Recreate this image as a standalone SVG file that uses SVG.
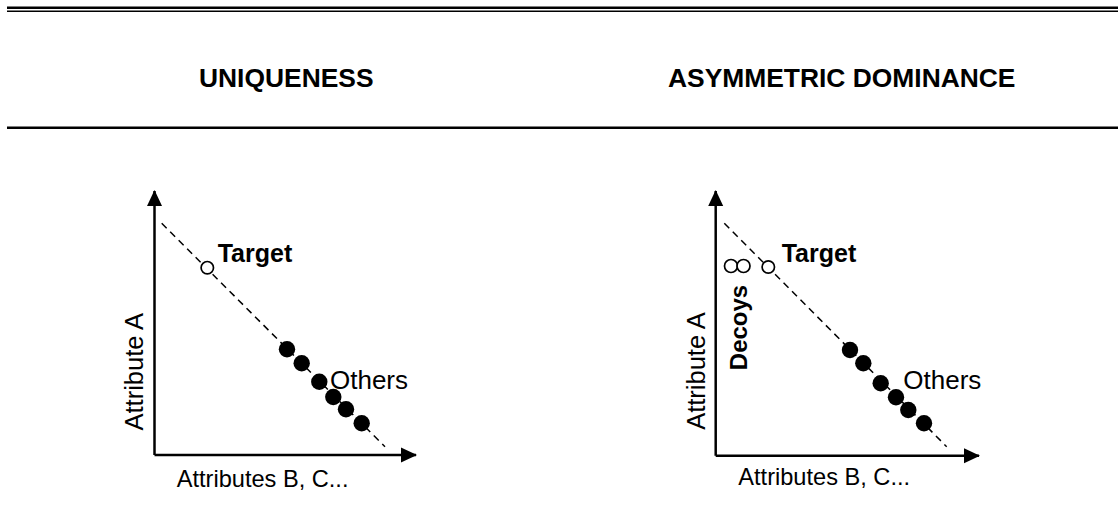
<svg xmlns="http://www.w3.org/2000/svg" width="1118" height="515" viewBox="0 0 1118 515">
<style>
text{font-family:"Liberation Sans",Arial,sans-serif;fill:#000}
.title{font-size:26.4px;font-weight:bold}
.others{font-size:26px}
.attr{font-size:25.5px}
.attrs{font-size:23.6px}
.target{font-size:25px;font-weight:bold}
.decoy{font-size:24px;font-weight:bold}
.axis{stroke:#000;stroke-width:2.5;fill:none}
.dash{stroke:#000;stroke-width:1.5;stroke-dasharray:7,5;fill:none}
.open{fill:#fff;stroke:#000;stroke-width:1.7}
.dot{fill:#000}
.rule{stroke:#000;fill:none}
</style>
<defs>
<marker id="ah" markerWidth="16" markerHeight="16" viewBox="0 0 16 16" refX="15" refY="8" orient="auto" markerUnits="userSpaceOnUse">
<path d="M0,0.5 L16,8 L0,15.5 Z" fill="#000"/>
</marker>
</defs>
<g id="rules">
<line class="rule" x1="7" y1="7.7" x2="1118" y2="7.7" stroke-width="2.4"/>
<line class="rule" x1="7" y1="11.2" x2="1118" y2="11.2" stroke-width="1.6"/>
<line class="rule" x1="7" y1="127.8" x2="1118" y2="127.8" stroke-width="2.5"/>
</g>
<g id="title-uniqueness"><text class="title" x="199" y="86.5">UNIQUENESS</text></g>
<g id="title-asymmetric"><text class="title" x="668" y="86.5">ASYMMETRIC DOMINANCE</text></g>

<g id="chart-left">
<g id="connectors-left">
<line class="axis" x1="154.5" y1="455" x2="154.5" y2="191" marker-end="url(#ah)"/>
<line class="axis" x1="154.5" y1="455" x2="416" y2="455" marker-end="url(#ah)"/>
<line class="dash" x1="161.7" y1="223.3" x2="385" y2="446.7"/>
</g>
<g id="target-left"><circle class="open" cx="207.3" cy="267.7" r="6.2"/><text class="target" x="217.7" y="261.7">Target</text></g>
<g id="others-left">
<circle class="dot" cx="287" cy="349.3" r="8.2"/>
<circle class="dot" cx="301.7" cy="363.3" r="8.2"/>
<circle class="dot" cx="319.3" cy="381.7" r="8.2"/>
<circle class="dot" cx="333.3" cy="397" r="8.2"/>
<circle class="dot" cx="346" cy="409.3" r="8.2"/>
<circle class="dot" cx="361.7" cy="423.3" r="8.2"/>
<text class="others" x="330" y="389">Others</text>
</g>
<text class="attr" transform="translate(143,371.7) rotate(-90)" text-anchor="middle">Attribute A</text>
<text class="attrs" x="176.7" y="486.7">Attributes B, C...</text>
</g>

<g id="chart-right">
<g id="connectors-right">
<line class="axis" x1="715.7" y1="455.7" x2="715.7" y2="191" marker-end="url(#ah)"/>
<line class="axis" x1="715.7" y1="455.7" x2="979" y2="455.7" marker-end="url(#ah)"/>
<line class="dash" x1="724.3" y1="223.3" x2="946.7" y2="446.7"/>
</g>
<g id="decoys">
<circle class="open" cx="731" cy="266" r="6.5"/>
<circle class="open" cx="743.5" cy="266" r="6.5"/>
<text class="decoy" transform="translate(746.5,327.5) rotate(-90)" text-anchor="middle">Decoys</text>
</g>
<g id="target-right"><circle class="open" cx="768.3" cy="267" r="6.2"/><text class="target" x="781.7" y="261.7">Target</text></g>
<g id="others-right">
<circle class="dot" cx="850" cy="350" r="8.2"/>
<circle class="dot" cx="863.3" cy="363.3" r="8.2"/>
<circle class="dot" cx="880.7" cy="383.3" r="8.2"/>
<circle class="dot" cx="896" cy="397.3" r="8.2"/>
<circle class="dot" cx="908.3" cy="410" r="8.2"/>
<circle class="dot" cx="924" cy="423.3" r="8.2"/>
<text class="others" x="903.3" y="388.5">Others</text>
</g>
<text class="attr" transform="translate(705,371) rotate(-90)" text-anchor="middle">Attribute A</text>
<text class="attrs" x="738.3" y="485">Attributes B, C...</text>
</g>
</svg>
